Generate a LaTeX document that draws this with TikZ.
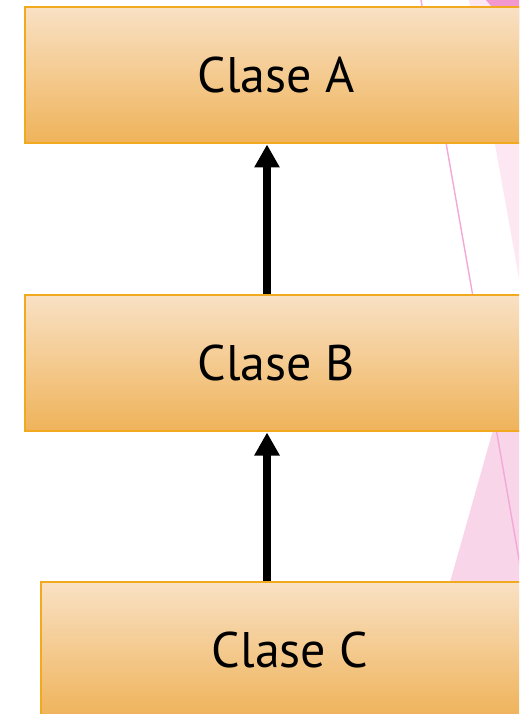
\documentclass[tikz,border=0pt]{standalone}
\usepackage{fontspec}
\setmainfont{PT Sans}
\usetikzlibrary{arrows.meta}

\definecolor{boxtop}{HTML}{F9E1C4}
\definecolor{boxbot}{HTML}{EFB35A}
\definecolor{boxedge}{HTML}{F1A920}
\definecolor{pinkpale}{HTML}{FCE7F2}
\definecolor{pinkmid}{HTML}{F9D5EA}
\definecolor{pinkdeep}{HTML}{F398CE}
\definecolor{pinkline}{HTML}{F4A8D5}

\tikzset{
  classbox/.style={rectangle, draw=boxedge, line width=2pt,
    top color=boxtop, bottom color=boxbot,
    minimum width=502pt, minimum height=136pt, inner sep=0pt,
    font=\fontsize{50}{60}\selectfont, text=black},
  inherit/.style={line width=8pt, draw=black,
    -{Triangle[width=24pt,length=23pt]}},
}

\begin{document}
\begin{tikzpicture}[x=1pt,y=-1pt]
  \useasboundingbox (0,0) rectangle (519,714);
  \clip (0,0) rectangle (519,714);

  % decorative pink wedges on the right
  \fill[pinkpale] (469,0) -- (519,0) -- (519,278) -- cycle;
  \fill[pinkdeep] (486,0) -- (519,0) -- (519,40) -- cycle;
  \fill[pinkmid] (519,338) -- (443,607) -- (519,607) -- cycle;
  \draw[pinkline, line width=1.4pt] (421,0) -- (523.5,585);

  % class boxes
  \node[classbox] (A) at (276,75) {Clase A};
  \node[classbox] (B) at (276,363) {Clase B};
  \node[classbox, minimum width=498pt, minimum height=135pt] (C) at (290,649.5) {Clase C};

  % inheritance arrows
  \draw[inherit] ([xshift=-9pt]B.north) -- ([xshift=-9pt,yshift=-0.5pt]A.south);
  \draw[inherit] ([xshift=-23pt]C.north) -- ([xshift=-9pt,yshift=-0.5pt]B.south);
\end{tikzpicture}
\end{document}
